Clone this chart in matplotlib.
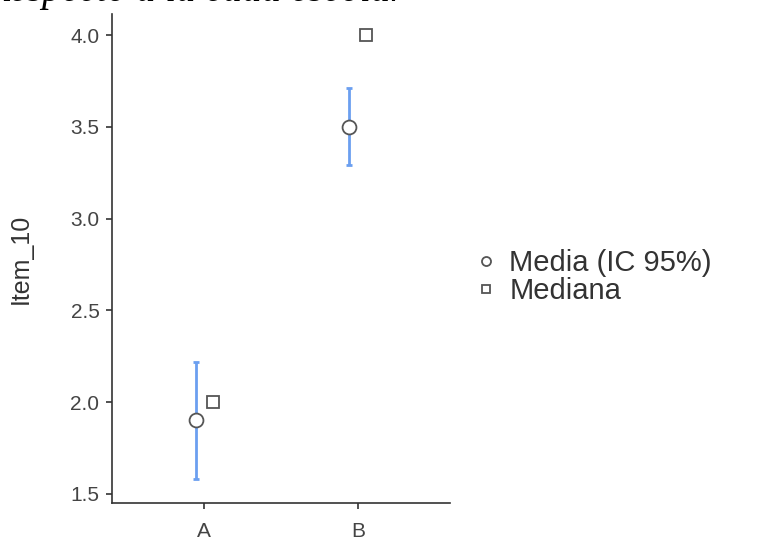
import matplotlib.pyplot as plt

plt.rcParams['font.family'] = ['Liberation Sans', 'DejaVu Sans']

# data
groups = ['A', 'B']
means = [1.9, 3.5]
ci_low = [1.58, 3.29]
ci_high = [2.22, 3.71]
medians = [2.0, 4.0]

x = list(range(len(groups)))
dodge = 0.055

fig = plt.figure(figsize=(7.74, 5.41), dpi=100)
ax = fig.add_axes([112 / 774, 38 / 541, 338 / 774, 489 / 541])

# clipped title from the page above
fig.text(-14 / 774, 1 - 1 / 541, 'Respecto a la edad escolar', fontsize=28,
         style='italic', family='Liberation Serif', va='baseline', color='black')

xm = [i - dodge for i in x]
xd = [i + dodge for i in x]
err = [[m - l for m, l in zip(means, ci_low)], [h - m for m, h in zip(means, ci_high)]]
ax.errorbar(xm, means, yerr=err, fmt='none', ecolor='#6b9ff0', elinewidth=2,
            capsize=2.5, capthick=2, zorder=2)
ax.plot(xm, means, 'o', ms=10, mfc='white', mec='#555555', mew=1.3, ls='none',
        zorder=3, label='Media (IC 95%)')
ax.plot(xd, medians, 's', ms=9, mfc='white', mec='#555555', mew=1.3, ls='none',
        zorder=3, label='Mediana')

ax.set_xlim(-0.6, 1.6)
ax.set_ylim(1.45, 4.115)
ax.set_xticks(x)
ax.set_xticklabels(groups)
ax.set_yticks([1.5, 2.0, 2.5, 3.0, 3.5, 4.0])
ax.set_yticklabels(['1.5', '2.0', '2.5', '3.0', '3.5', '4.0'])
ax.set_ylabel('Item_10', fontsize=18, color='#333333')
ax.yaxis.set_label_coords(-(112 - 33) / 338, 0.5)

for s in ['top', 'right']:
    ax.spines[s].set_visible(False)
for s in ['left', 'bottom']:
    ax.spines[s].set_color('#333333')
    ax.spines[s].set_linewidth(1.2)
ax.tick_params(labelcolor='#444444', color='#333333', labelsize=15, length=4, width=1.2, pad=5)
ax.tick_params(axis='x', pad=10)

leg = fig.legend(loc='center left', bbox_to_anchor=(448 / 774, 1 - 277 / 541),
                 frameon=False, fontsize=21, handlelength=0.8, handletextpad=0.4,
                 labelspacing=0.02, markerscale=0.65)
for t in leg.get_texts():
    t.set_color('#333333')

fig.savefig('out.png', dpi=100)
